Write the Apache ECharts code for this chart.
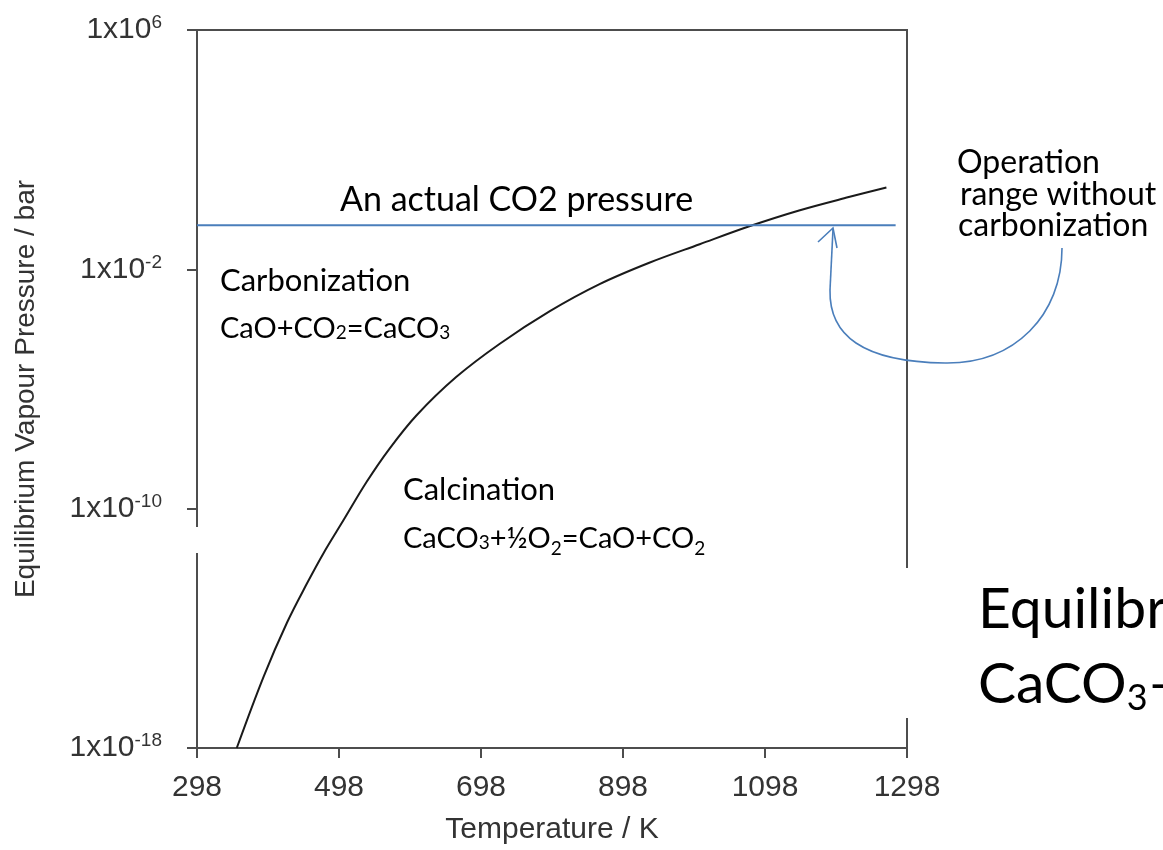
<!DOCTYPE html>
<html><head><meta charset="utf-8">
<script src="https://cdn.jsdelivr.net/npm/echarts@6/dist/echarts.min.js"></script>
<style>html,body{margin:0;padding:0;background:#fff;} #c{width:1163px;height:850px;}</style>
</head><body><div id="c"></div>
<script>
// Equilibrium CO2 pressure curve
const temperatureK = [354, 392, 425, 453, 476, 504, 537, 569, 607, 663, 724, 795, 865, 935, 1006, 1076, 1146, 1216, 1269];
const pressureBar = [1e-18, 2.5e-16, 1.6e-14, 3.2e-13, 3.2e-12, 4.0e-11, 7.9e-10, 1.0e-8, 1.3e-7, 2.5e-6, 3.2e-5, 4.0e-4, 3.2e-3, 1.66e-2, 6.9e-2, 0.275, 0.93, 2.6, 5.4];
// Actual CO2 pressure line
const co2LineT = [298, 1282];
const co2LinePressure = [0.3, 0.3];
// Tick values
const xTicks = [298, 498, 698, 898, 1098, 1298];
const yTicks = [1e-18, 1e-10, 1e-2, 1e6];

const AX = 'Liberation Sans';
const TX = 'Lato';
const axisColor = '#4d4d4d';
const blue = '#4a7ebb';

const chart = echarts.init(document.getElementById('c'), null, {renderer: 'canvas'});

const curveData = temperatureK.map((t, i) => [t, pressureBar[i]]);
const co2Data = co2LineT.map((t, i) => [t, co2LinePressure[i]]);

const nStyle = (fs) => ({fontSize: fs, fontFamily: TX, fill: '#000'});
const subStyle = (fs, pad) => ({fontSize: fs, fontFamily: TX, fill: '#000', padding: [pad, 0, 0, 0]});

chart.setOption({
  animation: false,
  backgroundColor: '#fff',
  grid: {left: 197, right: 256, top: 30, bottom: 102, show: true, borderColor: axisColor, borderWidth: 2, backgroundColor: 'transparent'},
  xAxis: {
    type: 'value', min: 298, max: 1298,
    name: 'Temperature / K', nameLocation: 'middle', nameGap: 67,
    nameTextStyle: {fontFamily: AX, fontSize: 30, color: '#333'},
    axisLine: {show: true, lineStyle: {color: axisColor, width: 2}},
    axisTick: {show: true, length: 10, customValues: xTicks, lineStyle: {color: axisColor, width: 2}},
    axisLabel: {customValues: xTicks, formatter: (v) => String(v), fontFamily: AX, fontSize: 30, color: '#333', margin: 25},
    splitLine: {show: false}
  },
  yAxis: {
    type: 'log', logBase: 10, min: 1e-18, max: 1e6,
    name: 'Equilibrium Vapour Pressure / bar', nameLocation: 'middle', nameGap: 157,
    nameTextStyle: {fontFamily: AX, fontSize: 28, color: '#333'},
    axisLine: {show: true, lineStyle: {color: axisColor, width: 2}},
    axisTick: {show: true, length: 10, customValues: yTicks, lineStyle: {color: axisColor, width: 2}},
    axisLabel: {
      customValues: yTicks, margin: 35,
      formatter: (v) => '{b|1x10}{s|' + Math.round(Math.log10(v)) + '}',
      rich: {
        b: {fontFamily: AX, fontSize: 30, color: '#333'},
        s: {fontFamily: AX, fontSize: 19, color: '#333', padding: [0, 0, 14, 0]}
      }
    },
    splitLine: {show: false}
  },
  series: [
    {type: 'line', data: curveData, smooth: 0.35, showSymbol: false, lineStyle: {color: '#1a1a1a', width: 2}, z: 3},
    {type: 'line', data: co2Data, showSymbol: false, lineStyle: {color: blue, width: 2}, z: 4}
  ],
  graphic: [
    // small gap in left axis line
    {type: 'rect', shape: {x: 193, y: 527, width: 9, height: 26}, style: {fill: '#fff'}, z: 50},
    // white box at right covering frame
    {type: 'rect', shape: {x: 902, y: 568, width: 261, height: 150}, style: {fill: '#fff'}, z: 50},
    {type: 'text', x: 978, y: 610, z: 60, style: {text: 'Equilibrium', fontFamily: TX, fontSize: 57, fill: '#000', verticalAlign: 'middle'}},
    {type: 'text', x: 978, y: 685, z: 60, style: {text: '{n|CaCO}{d|3}{n|–}', verticalAlign: 'middle',
      rich: {n: nStyle(57), d: subStyle(36, 26)}}},
    // annotations
    {type: 'text', x: 340, y: 200, z: 60, style: {text: 'An actual CO2 pressure', fontFamily: TX, fontSize: 34, fill: '#000', verticalAlign: 'middle'}},
    {type: 'text', x: 220, y: 281, z: 60, style: {text: 'Carbonization', fontFamily: TX, fontSize: 31, fill: '#000', verticalAlign: 'middle'}},
    {type: 'text', x: 220, y: 329, z: 60, style: {text: '{n|CaO+CO}{s|2}{n|=CaCO}{s|3}', verticalAlign: 'middle',
      rich: {n: nStyle(29), s: subStyle(19, 8)}}},
    {type: 'text', x: 403, y: 490, z: 60, style: {text: 'Calcination', fontFamily: TX, fontSize: 31, fill: '#000', verticalAlign: 'middle'}},
    {type: 'text', x: 403, y: 539, z: 60, style: {text: '{n|CaCO}{s|3}{n|+½O}{d|2}{n|=CaO+CO}{d|2}', verticalAlign: 'middle',
      rich: {n: nStyle(29), s: subStyle(19, 8), d: subStyle(19, 20)}}},
    {type: 'text', x: 957, y: 163, z: 60, style: {text: 'Operation', fontFamily: TX, fontSize: 32, fill: '#000', verticalAlign: 'middle'}},
    {type: 'text', x: 960, y: 195, z: 60, style: {text: 'range without', fontFamily: TX, fontSize: 32, fill: '#000', verticalAlign: 'middle'}},
    {type: 'text', x: 958, y: 226, z: 60, style: {text: 'carbonization', fontFamily: TX, fontSize: 32, fill: '#000', verticalAlign: 'middle'}},
    // blue curved arrow
    {type: 'line', z: 55, shape: {x1: 833, y1: 229, x2: 830, y2: 290}, style: {stroke: blue, lineWidth: 1.6}},
    {type: 'bezierCurve', z: 55, shape: {x1: 830, y1: 290, cpx1: 829, cpy1: 335, cpx2: 862, cpy2: 362, x2: 945, y2: 363}, style: {stroke: blue, lineWidth: 1.6, fill: null}},
    {type: 'bezierCurve', z: 55, shape: {x1: 945, y1: 363, cpx1: 1015, cpy1: 364, cpx2: 1062, cpy2: 315, x2: 1062, y2: 248}, style: {stroke: blue, lineWidth: 1.6, fill: null}},
    {type: 'polyline', z: 55, shape: {points: [[818, 242], [833, 228], [837, 248]]}, style: {stroke: blue, lineWidth: 1.6, fill: null}}
  ]
});
</script></body></html>
